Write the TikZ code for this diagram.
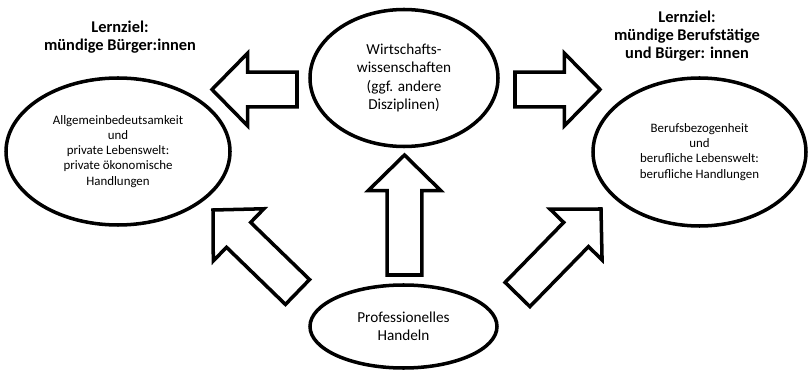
\documentclass[tikz,border=0pt]{standalone}
\usepackage{fontspec}
\setmainfont{Carlito}
\usetikzlibrary{calc,shapes.geometric}
% block arrow from tail (#1) to tip (#2)
\def\fatarrow(#1)(#2){%
  \coordinate (hb) at ($(#2)!1.07cm!(#1)$);
  \draw[fatarrow] ($(#1)!0.52cm!90:(#2)$) -- ($(hb)!0.52cm!-90:(#1)$) -- ($(hb)!1.09cm!-90:(#1)$) -- (#2)
    -- ($(hb)!1.09cm!90:(#1)$) -- ($(hb)!0.52cm!90:(#1)$) -- ($(#1)!0.52cm!-90:(#2)$) -- cycle;}

\begin{document}
\begin{tikzpicture}[x=0.03cm, y=-0.03cm,
    oval/.style={draw, ellipse, line width=3pt, inner sep=0pt, align=center},
    smalltext/.style={font=\fontsize{11}{12.9}\selectfont},
    bigtext/.style={font=\fontsize{13}{15.5}\selectfont},
    goal/.style={align=center, font=\fontsize{14}{15.6}\selectfont\bfseries},
    fatarrow/.style={draw, line width=3pt, fill=white, line join=miter}]
	\useasboundingbox (0,0) rectangle (809,370);
	
	%%%%% ovals %%%%%
	\node[oval, bigtext, minimum width=188*0.03cm, minimum height=137*0.03cm] (wiwi) at (404,78)
		{Wirtschafts-\\wissenschaften\\(ggf. andere\\Disziplinen)};
	\node[oval, smalltext, minimum width=224*0.03cm, minimum height=147*0.03cm] (privat) at (118,151.5)
		{Allgemeinbedeutsamkeit\\und\\private Lebenswelt:\\private ökonomische\\Handlungen};
	\node[oval, smalltext, minimum width=213*0.03cm, minimum height=148*0.03cm] (beruf) at (699.5,152)
		{Berufsbezogenheit\\und\\berufliche Lebenswelt:\\berufliche Handlungen};
	\node[oval, bigtext, minimum width=187*0.03cm, minimum height=83*0.03cm] (handeln) at (403.5,326.5)
		{Professionelles\\Handeln};
	
	%%%%% goals %%%%%
	\node[goal] (zielL) at (120,37) {Lernziel:\\mündige Bürger:innen};
	\node[goal] (zielR) at (687,36) {Lernziel:\\mündige Berufstätige\\und Bürger: innen};
	
	%%%%% arrows %%%%%
	\coordinate (lTail) at (297,89.5);
	\coordinate (lTip) at (212,89.5);
	\coordinate (rTail) at (515,89.5);
	\coordinate (rTip) at (600,89.5);
	\coordinate (uTail) at (404.5,275);
	\coordinate (uTip) at (404.5,155);
	\coordinate (dlTail) at (297.5,292);
	\coordinate (dlTip) at (213,210);
	\coordinate (drTail) at (517.5,294.5);
	\coordinate (drTip) at (601,209);
	
	\fatarrow(lTail)(lTip)
	\fatarrow(rTail)(rTip)
	\fatarrow(uTail)(uTip)
	\fatarrow(dlTail)(dlTip)
	\fatarrow(drTail)(drTip)
\end{tikzpicture}
\end{document}
